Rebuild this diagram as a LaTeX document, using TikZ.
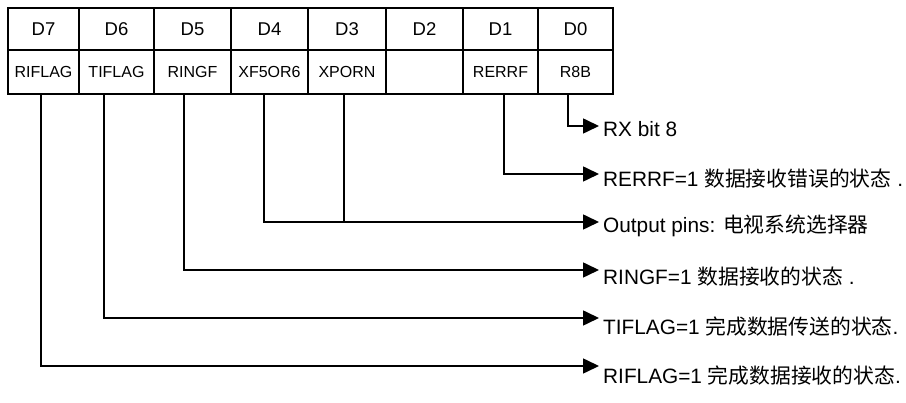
\documentclass[tikz,border=0pt]{standalone}
\usepackage{fontspec}
\setmainfont{Liberation Sans}
\newfontfamily\cjk{Noto Sans CJK SC}
\usetikzlibrary{arrows.meta}
\begin{document}
\begin{tikzpicture}[x=1pt,y=-1pt,
  hcell/.style={draw, line width=1.6pt, minimum height=42pt, inner sep=0pt, font=\fontsize{18.5}{22}\selectfont},
  ncell/.style={draw, line width=1.6pt, minimum height=44pt, inner sep=0pt, font=\fontsize{16}{19}\selectfont},
  conn/.style={line width=1.6pt},
  arr/.style={line width=1.6pt, -{Triangle[length=16pt,width=15pt]}},
  lab/.style={anchor=base west, inner sep=0pt, font=\fontsize{20.8}{24}\selectfont}]
\useasboundingbox (0,0) rectangle (906,403);
% header row
\node[hcell, minimum width=71pt] (h7) at (43.5,29) {D7};
\node[hcell, minimum width=75pt] (h6) at (116.5,29) {D6};
\node[hcell, minimum width=77pt] (h5) at (192.5,29) {D5};
\node[hcell, minimum width=77pt] (h4) at (269.5,29) {D4};
\node[hcell, minimum width=78pt] (h3) at (347,29) {D3};
\node[hcell, minimum width=77pt] (h2) at (424.5,29) {D2};
\node[hcell, minimum width=75pt] (h1) at (500.5,29) {D1};
\node[hcell, minimum width=75pt] (h0) at (575.5,29) {D0};
% name row
\node[ncell, minimum width=71pt] (n7) at (43.5,72) {RIFLAG};
\node[ncell, minimum width=75pt] (n6) at (116.5,72) {TIFLAG};
\node[ncell, minimum width=77pt] (n5) at (192.5,72) {RINGF};
\node[ncell, minimum width=77pt] (n4) at (269.5,72) {XF5OR6};
\node[ncell, minimum width=78pt] (n3) at (347,72) {XPORN};
\node[ncell, minimum width=77pt] (n2) at (424.5,72) {};
\node[ncell, minimum width=75pt] (n1) at (500.5,72) {RERRF};
\node[ncell, minimum width=75pt] (n0) at (575.5,72) {R8B};
% connector start points on the bottom edge
\coordinate (s7) at (41,94);
\coordinate (s6) at (104,94);
\coordinate (s5) at (184,94);
\coordinate (s4) at (264,94);
\coordinate (s3) at (344,94);
\coordinate (s1) at (504,94);
\coordinate (s0) at (568,94);
% arrow tips
\coordinate (t0) at (599,126);
\coordinate (t1) at (599,174);
\coordinate (t4) at (599,222);
\coordinate (t5) at (599,270);
\coordinate (t6) at (599,318);
\coordinate (t7) at (599,366);
% labels
\node[lab] (l0) at (603,137) {RX bit 8};
\node[lab] (l1) at (603,187) {RERRF=1 {\cjk 数据接收错误的状态} .};
\node[lab] (l4) at (603,233) {Output pins: {\cjk 电视系统选择器}};
\node[lab] (l5) at (603,285) {RINGF=1 {\cjk 数据接收的状态} .};
\node[lab] (l6) at (603,335) {TIFLAG=1 {\cjk 完成数据传送的状态}.};
\node[lab] (l7) at (603,384) {RIFLAG=1 {\cjk 完成数据接收的状态}.};
% connectors
\draw[arr] (s0) |- (t0);
\draw[arr] (s1) |- (t1);
\draw[arr] (s4) |- (t4);
\draw[conn] (s3) -- (s3 |- t4);
\draw[arr] (s5) |- (t5);
\draw[arr] (s6) |- (t6);
\draw[arr] (s7) |- (t7);
\end{tikzpicture}
\end{document}
